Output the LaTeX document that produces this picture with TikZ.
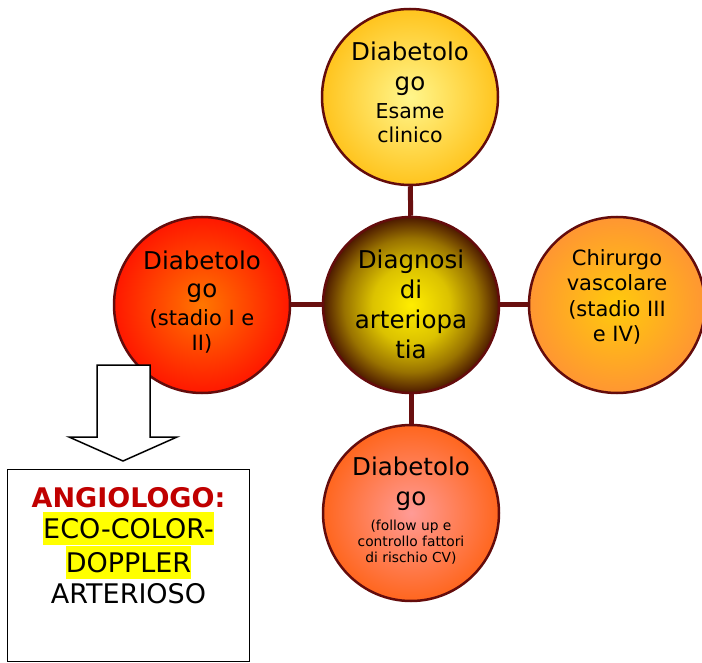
\documentclass[tikz,border=0pt]{standalone}
\usepackage{fontspec}
\setmainfont{DejaVu Sans}
\setlength\parindent{0pt}
% colours of rims, links and fills
\definecolor{rimred}{RGB}{100,12,12}
\definecolor{linkred}{RGB}{105,15,15}
\definecolor{angred}{RGB}{192,0,0}
\definecolor{hiyellow}{RGB}{255,255,0}
\definecolor{topin}{RGB}{255,246,140}
\definecolor{topout}{RGB}{255,196,30}
\definecolor{leftin}{RGB}{255,118,0}
\definecolor{leftout}{RGB}{255,24,0}
\definecolor{rightin}{RGB}{255,202,12}
\definecolor{rightout}{RGB}{255,150,50}
\definecolor{botin}{RGB}{255,155,150}
\definecolor{botout}{RGB}{255,102,30}
% yellow core fading to a dark brown rim
\pgfdeclareradialshading{hubmid}{\pgfpoint{0bp}{0bp}}{%
  rgb(0bp)=(1,0.93,0);rgb(11bp)=(0.86,0.76,0);rgb(19bp)=(0.6,0.45,0);%
  rgb(25bp)=(0.3,0.1,0);rgb(50bp)=(0.3,0.1,0)}
% font sizes
\newcommand\bigsz{\fontsize{24.5}{30}\selectfont}
\newcommand\boxsz{\fontsize{27}{31}\selectfont}
\newcommand\hlbar[1]{{\setlength\fboxsep{0pt}\colorbox{hiyellow}{\rule[-6.5pt]{0pt}{33pt}#1}}}
\begin{document}
\begin{tikzpicture}[x=1pt,y=-1pt,
  hub/.style={circle, draw=rimred, line width=2.5pt, minimum size=176pt, inner sep=0pt},
  link/.style={draw=linkred, line width=5pt},
  lbl/.style={anchor=north, align=center, inner sep=0pt, text=black},
]
\fill[white] (0,0) rectangle (702,663);
\useasboundingbox (0,0) rectangle (702,663);

% circles
\node[hub, inner color=topin, outer color=topout] (hubT) at (410,97) {};
\node[hub, shade, shading=hubmid] (hubC) at (411,305) {};
\node[hub, inner color=leftin, outer color=leftout] (hubL) at (202,305) {};
\node[hub, inner color=rightin, outer color=rightout] (hubR) at (617,305) {};
\node[hub, inner color=botin, outer color=botout] (hubB) at (411,513) {};

% links from the hub
\draw[link] (hubC) -- (hubT);
\draw[link] (hubC) -- (hubL);
\draw[link] (hubC) -- (hubR);
\draw[link] (hubC) -- (hubB);

% circle texts
\node[lbl, font=\fontsize{20.5}{24}\selectfont] (txtT) at (410,41.4)
  {\bigsz Diabetolo\\[6pt]\bigsz go\\[4pt]Esame\\clinico};
\node[lbl, font=\bigsz] (txtC) at (411,249.4) {Diagnosi\\di\\arteriopa\\tia};
\node[lbl, font=\fontsize{21}{25}\selectfont] (txtL) at (202,250.4)
  {\bigsz Diabetolo\\[3pt]\bigsz go\\[3pt](stadio I e\\II)};
\node[lbl, font=\fontsize{21}{25.5}\selectfont] (txtR) at (617,249)
  {Chirurgo\\vascolare\\(stadio III\\e IV)};
\node[lbl, font=\fontsize{13.8}{16}\selectfont] (txtB) at (411,456.4)
  {\bigsz Diabetolo\\[14pt]\bigsz go\\[9pt](follow up e\\controllo fattori\\di rischio CV)};

% block arrow pointing down to the box
\draw[line width=1.5pt, fill=white, line join=miter]
  (97,365) -- (150,365) -- (150,437) -- (177,437) -- (123,461) -- (69,437) -- (97,437) -- cycle;

% result box
\node[draw=black, line width=1.5pt, minimum width=242pt, minimum height=192pt, inner sep=0pt] (angbox) at (128.5,565.5) {};
\node[lbl, font={\boxsz\lineskip=1pt}] (angtxt) at (128.5,487)
  {\bfseries\color{angred}ANGIOLOGO:\\\hlbar{ECO-COLOR-}\\\hlbar{DOPPLER}\\ARTERIOSO};
\end{tikzpicture}
\end{document}
